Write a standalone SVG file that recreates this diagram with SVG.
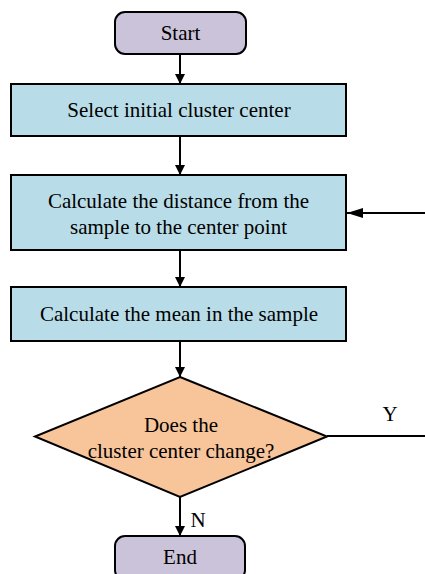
<svg xmlns="http://www.w3.org/2000/svg" width="425" height="574" viewBox="0 0 425 574">
  <style>
    .term { fill: #cbc3da; stroke: #000; stroke-width: 2; }
    .proc { fill: #b8dde8; stroke: #000; stroke-width: 2; }
    .dec { fill: #f8c59b; stroke: #000; stroke-width: 2; }
    .lbl { font-family: "Liberation Serif", "Times New Roman", serif; font-size: 21px; fill: #000; text-anchor: middle; }
    .edge { stroke: #000; stroke-width: 2; fill: none; }
  </style>
  <defs>
    <marker id="arrow" viewBox="0 0 10 10" refX="10" refY="5" markerWidth="10" markerHeight="10" markerUnits="userSpaceOnUse" orient="auto">
      <path d="M0,0 L10,5 L0,10 Z" fill="#000"/>
    </marker>
    <marker id="arrowWide" viewBox="0 0 16 10" refX="16" refY="5" markerWidth="16" markerHeight="10" markerUnits="userSpaceOnUse" orient="auto">
      <path d="M0,0 L16,5 L0,10 Z" fill="#000"/>
    </marker>
  </defs>

  <!-- flow connectors and branch labels -->
  <g id="connectors">
    <line class="edge" x1="180" y1="54" x2="180" y2="84" marker-end="url(#arrow)"/>
    <line class="edge" x1="180" y1="136" x2="180" y2="175" marker-end="url(#arrow)"/>
    <line class="edge" x1="180" y1="250" x2="180" y2="287" marker-end="url(#arrow)"/>
    <line class="edge" x1="180" y1="341" x2="180" y2="377" marker-end="url(#arrow)"/>
    <line class="edge" x1="180" y1="497" x2="180" y2="536" marker-end="url(#arrow)"/>
    <line class="edge" x1="327" y1="436" x2="425" y2="436"/>
    <line class="edge" x1="425" y1="213" x2="347" y2="213" marker-end="url(#arrowWide)"/>
    <text class="lbl" x="390" y="421">Y</text>
    <text class="lbl" x="198" y="527">N</text>
  </g>

  <g id="start">
    <rect class="term" x="115" y="12" width="131" height="42" rx="10"/>
    <text class="lbl" x="180.5" y="40">Start</text>
  </g>

  <g id="select-center">
    <rect class="proc" x="11" y="84" width="335" height="52"/>
    <text class="lbl" x="179" y="117">Select initial cluster center</text>
  </g>

  <g id="calc-distance">
    <rect class="proc" x="11" y="175" width="335" height="75"/>
    <text class="lbl" x="178.5" y="208">Calculate the distance from the</text>
    <text class="lbl" x="178.5" y="234">sample to the center point</text>
  </g>

  <g id="calc-mean">
    <rect class="proc" x="11" y="287" width="335" height="54"/>
    <text class="lbl" x="179" y="321">Calculate the mean in the sample</text>
  </g>

  <g id="center-changed">
    <polygon class="dec" points="180,377 327,436.5 180,497 35,436.5"/>
    <text class="lbl" x="181" y="432">Does the</text>
    <text class="lbl" x="181" y="458">cluster center change?</text>
  </g>

  <g id="end">
    <rect class="term" x="115" y="536" width="130" height="44" rx="10"/>
    <text class="lbl" x="180" y="564">End</text>
  </g>
</svg>
